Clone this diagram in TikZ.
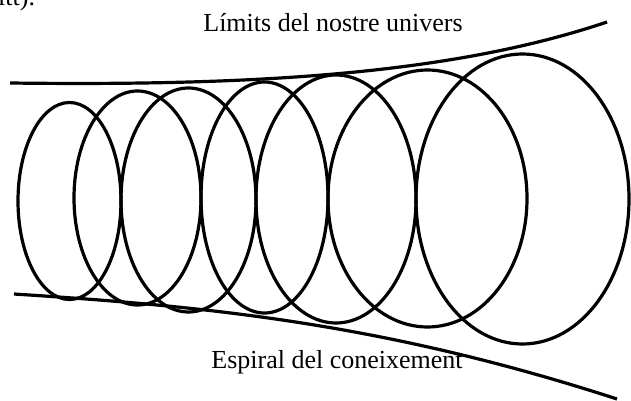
\documentclass[tikz,border=0pt]{standalone}
\usepackage{fontspec}
\setmainfont{Liberation Serif}
\begin{document}
\begin{tikzpicture}[x=1pt,y=-1pt,
  curve/.style={line width=3.2pt,black},
  lbl/.style={font=\fontsize{26}{30}\selectfont,anchor=base,inner sep=0pt}]
\useasboundingbox (0,0) rectangle (631,401);
% ellipses
\draw[curve] (69.5,201) ellipse [x radius=51.5pt, y radius=98.5pt];
\draw[curve] (137.5,198) ellipse [x radius=63.5pt, y radius=107pt];
\draw[curve] (188.5,200) ellipse [x radius=67.5pt, y radius=112pt];
\draw[curve] (264.5,197.5) ellipse [x radius=63.5pt, y radius=115.5pt];
\draw[curve] (336,199) ellipse [x radius=80pt, y radius=124pt];
\draw[curve] (427.5,198.5) ellipse [x radius=99.5pt, y radius=128.5pt];
\draw[curve] (522.5,199) ellipse [x radius=106.5pt, y radius=145pt];
% boundary lines
\coordinate (t0) at (10,83);
\coordinate (t1) at (607,22);
\coordinate (b0) at (14,294);
\coordinate (b1) at (617,399);
\draw[curve] (t0) .. controls (250,86) and (450,75) .. (t1);
\draw[curve] (b0) .. controls (200,306) and (380,322) .. (b1);
% labels
\node[lbl] (top) at (333,32) {Límits del nostre univers};
\node[lbl] (bot) at (337,368) {Espiral del coneixement};
\node[lbl,anchor=base west] (frag) at (-2,5.5) {itt).};
\end{tikzpicture}
\end{document}
